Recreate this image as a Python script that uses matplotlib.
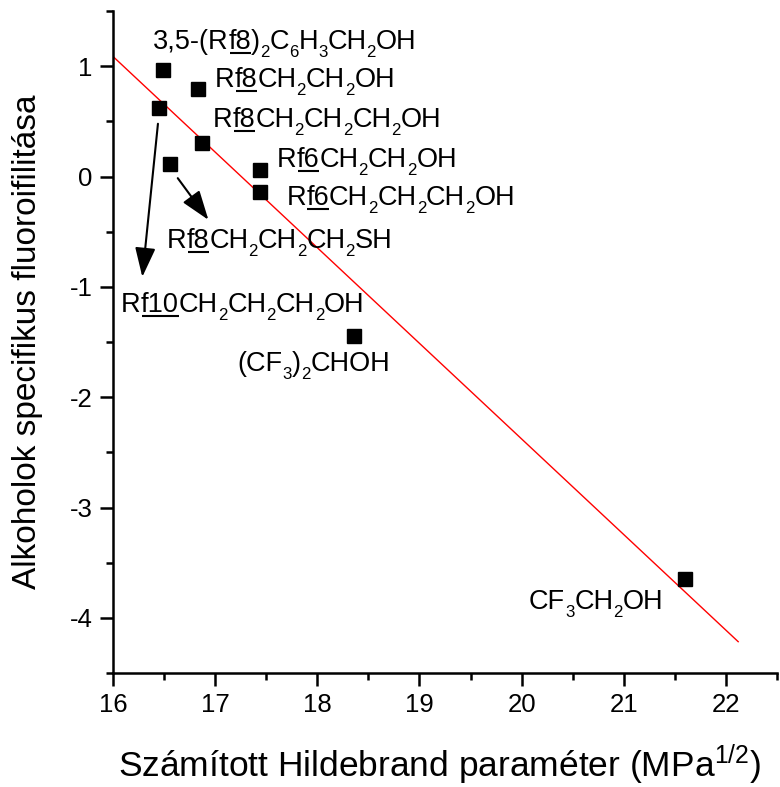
import matplotlib
matplotlib.use("Agg")
import matplotlib.pyplot as plt
from matplotlib.ticker import MultipleLocator
from matplotlib.font_manager import FontProperties
from matplotlib.transforms import offset_copy

plt.rcParams['font.family'] = ['Liberation Sans', 'DejaVu Sans']
plt.rcParams['mathtext.fontset'] = 'custom'
plt.rcParams['mathtext.rm'] = 'Liberation Sans'
plt.rcParams['mathtext.it'] = 'Liberation Sans:italic'
plt.rcParams['mathtext.bf'] = 'Liberation Sans:bold'
plt.rcParams['axes.unicode_minus'] = False

# data
x_vals = [16.49, 16.83, 16.45, 16.87, 16.56, 17.44, 17.44, 18.36, 21.60]
y_vals = [0.967, 0.795, 0.623, 0.30, 0.109, 0.063, -0.142, -1.45, -3.65]

fit_x = [16.0, 22.12]
fit_y = [1.088, -4.216]

# labels as segments: (text, kind) kind: 'n' normal, 'u' underlined, 's' subscript
labels = [
    ([("3,5-(R", 'n'), ("f8", 'u'), (")", 'n'), ("2", 's'), ("C", 'n'), ("6", 's'),
      ("H", 'n'), ("3", 's'), ("CH", 'n'), ("2", 's'), ("OH", 'n')], 16.39, 1.16),
    ([("R", 'n'), ("f8", 'u'), ("CH", 'n'), ("2", 's'), ("CH", 'n'), ("2", 's'),
      ("OH", 'n')], 17.00, 0.81),
    ([("R", 'n'), ("f8", 'u'), ("CH", 'n'), ("2", 's'), ("CH", 'n'), ("2", 's'),
      ("CH", 'n'), ("2", 's'), ("OH", 'n')], 16.98, 0.453),
    ([("R", 'n'), ("f6", 'u'), ("CH", 'n'), ("2", 's'), ("CH", 'n'), ("2", 's'),
      ("OH", 'n')], 17.605, 0.084),
    ([("R", 'n'), ("f6", 'u'), ("CH", 'n'), ("2", 's'), ("CH", 'n'), ("2", 's'),
      ("CH", 'n'), ("2", 's'), ("OH", 'n')], 17.70, -0.257),
    ([("R", 'n'), ("f8", 'u'), ("CH", 'n'), ("2", 's'), ("CH", 'n'), ("2", 's'),
      ("CH", 'n'), ("2", 's'), ("SH", 'n')], 16.53, -0.647),
    ([("R", 'n'), ("f10", 'u'), ("CH", 'n'), ("2", 's'), ("CH", 'n'), ("2", 's'),
      ("CH", 'n'), ("2", 's'), ("OH", 'n')], 16.08, -1.23),
    ([("(CF", 'n'), ("3", 's'), (")", 'n'), ("2", 's'), ("CHOH", 'n')], 17.22, -1.765),
    ([("CF", 'n'), ("3", 's'), ("CH", 'n'), ("2", 's'), ("OH", 'n')], 20.07, -3.92),
]

arrows = [
    ((16.44, 0.478), (16.287, -0.91)),
    ((16.634, -0.015), (16.934, -0.393)),
]

xticks = [16, 17, 18, 19, 20, 21, 22]
yticks = [-4, -3, -2, -1, 0, 1]

fig = plt.figure(figsize=(7.8, 7.87), dpi=100)
ax = fig.add_axes([113/780, 1 - 673/787, (777 - 113)/780, (673 - 11)/787])

ax.plot(fit_x, fit_y, color='red', lw=1.0, zorder=2)
ax.plot(x_vals, y_vals, 's', color='black', markersize=10.5, zorder=3)

ax.set_xlim(16, 22.5)
ax.set_ylim(-4.5, 1.5)
ax.set_xticks(xticks)
ax.set_yticks(yticks)
ax.xaxis.set_minor_locator(MultipleLocator(0.5))
ax.yaxis.set_minor_locator(MultipleLocator(0.5))
ax.tick_params(which='major', direction='out', length=9.5, width=1.8, labelsize=18.5, pad=5)
ax.tick_params(which='minor', direction='out', length=5, width=1.8)
for s in ['top', 'right']:
    ax.spines[s].set_visible(False)
for s in ['left', 'bottom']:
    ax.spines[s].set_linewidth(1.8)

fig.text(440/780, 1 - 777/787, r"Számított Hildebrand paraméter (MPa$^{1/2}$)",
         fontsize=25.5, ha='center', va='baseline')
fig.text(28/780, 1 - 342/787, "Alkoholok specifikus fluoroifilitása",
         fontsize=24, ha='center', va='center', rotation=90)

fs = 19.5
sub_fs = fs * 0.62
sub_drop = fs * 0.30  # points
fp = FontProperties(family='Liberation Sans', size=fs)
fp_sub = FontProperties(family='Liberation Sans', size=sub_fs)
fig.canvas.draw()
renderer = fig.canvas.get_renderer()
px_per_pt = fig.dpi / 72.0


def seg_width(txt, prop):
    return renderer.get_text_width_height_descent(txt, prop, ismath=False)[0] / px_per_pt


for segs, lx, ly in labels:
    cursor = 0.0  # points
    for txt, kind in segs:
        if kind == 's':
            tr = offset_copy(ax.transData, fig=fig, x=cursor, y=-sub_drop, units='points')
            ax.text(lx, ly, txt, fontsize=sub_fs, ha='left', va='baseline',
                    transform=tr, zorder=4)
            w = seg_width(txt, fp_sub)
        else:
            tr = offset_copy(ax.transData, fig=fig, x=cursor, y=0, units='points')
            ax.text(lx, ly, txt, fontsize=fs, ha='left', va='baseline',
                    transform=tr, zorder=4)
            w = seg_width(txt, fp)
            if kind == 'u':
                tru = offset_copy(ax.transData, fig=fig, x=0, y=-3.0, units='points')
                bx = ax.transData.transform((lx, ly))
                x0 = ax.transData.inverted().transform((bx[0] + (cursor + 0.8) * px_per_pt, bx[1]))[0]
                x1 = ax.transData.inverted().transform((bx[0] + (cursor + w) * px_per_pt, bx[1]))[0]
                ax.plot([x0, x1], [ly, ly], color='black', lw=1.5, zorder=4,
                        solid_capstyle='butt', transform=tru)
        cursor += w

for (sx, sy), (ex, ey) in arrows:
    ax.annotate("", xy=(ex, ey), xytext=(sx, sy),
                arrowprops=dict(arrowstyle='-|>,head_length=1.0,head_width=0.35',
                                color='black', lw=1.5, mutation_scale=18,
                                shrinkA=0, shrinkB=0))

fig.savefig("out.png", dpi=100)
